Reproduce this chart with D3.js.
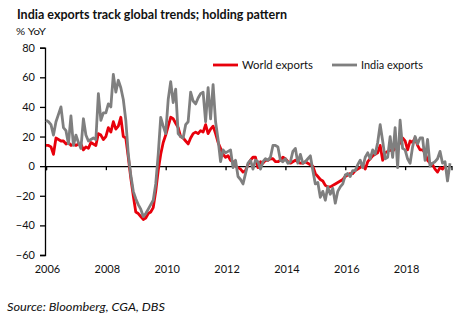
<!DOCTYPE html>
<html>
<head>
<meta charset="utf-8">
<script src="https://cdn.jsdelivr.net/npm/d3@7"></script>
<style>
  body { margin: 0; background: #fff; }
  text { font-family: Lato, "Liberation Sans", sans-serif; fill: #111; }
</style>
</head>
<body>
<div id="chart"></div>
<script>
// monthly % YoY, starting Jan 2006
const startYear = 2006;

const worldExports = [
  14, 14, 13, 8, 19, 18, 17, 17, 15, 16, 14, 15,
  14, 15, 15, 11, 13, 12, 16, 15, 14, 22, 21, 18,
  20, 26, 23, 30, 25, 27, 33, 20, 19, 6, -8, -20,
  -31, -32, -34, -36, -35, -32, -31, -28, -17, -3, 8, 16,
  21, 27, 33, 32, 29, 26, 20, 19, 17, 15, 19, 22,
  23, 22, 24, 23, 28, 22, 25, 27, 22, 16, 12, 8,
  6, 7, 4, 3, 0, -1, -2, -4, -3, 1, 4, 6,
  6, -1, 3, 2, 4, 4, 5, 5, 3, 3, 4, 6,
  5, 3, 2, 3, 4, 3, 2, 2, 3, 2, 1, 0,
  -5, -7, -9, -10, -13, -14, -14, -13, -12, -11, -10, -9,
  -7, -6, -5, -5, -3, -2, -1, 1, -2, 3, 5, 7,
  8, 9, 14, 4, 9, 10, 11, 10, 12, 13, 16, 19,
  17, 11, 17, 16, 19, 14, 11, 11, 9, 4, 2, 1,
  -2, -4, -1, -2, 0
];

const indiaExports = [
  31, 30, 28, 21, 30, 35, 40, 26, 24, 15, 34, 14,
  21, 16, 12, 32, 21, 17, 18, 19, 18, 49, 31, 36,
  36, 42, 40, 62, 50, 58, 53, 45, 31, 8, -6, -17,
  -22, -26, -29, -34, -32, -29, -26, -23, -12, 8, 33, 27,
  22, 45, 57, 43, 52, 22, 20, 19, 28, 30, 50, 44,
  42, 46, 49, 50, 30, 53, 32, 55, 30, 18, 3, 11,
  9, 10, 11, -1, 4, -7, -9, -12, -5, 2, 4, -2,
  4, 3, -2, 3, 5, 4, 6, 14, 14, 13, 4, 3,
  5, 2, 3, 10, 12, 2, 8, 2, 3, 5, 7, -3,
  -12, -11, -21, -17, -23, -14, -19, -15, -25, -17, -14, -12,
  -6, -5, -7, -3, -3, 1, 4, -1, 6, 9, 5, 11,
  8, 16, 28, 17, 5, 6, 20, 6, 26, -1, 31, 12,
  11, 5, 2, 13, 20, 15, 19, 19, 4, 18, 0, 2,
  3, 5, 10, 2, 3, -10, 2
];

const yTicks = [-60, -40, -20, 0, 20, 40, 60, 80];
const xTickYears = [2006, 2008, 2010, 2012, 2014, 2016, 2018];

const seriesNames = ["World exports", "India exports"];
const seriesColors = ["#e8000b", "#7f7f7f"];

const width = 471, height = 324;

const svg = d3.select("#chart")
  .append("svg")
  .attr("width", width)
  .attr("height", height);

let x = d3.scaleLinear()
  .domain([startYear, 2019.55])
  .range([46, 451.5]);

let y = d3.scaleLinear()
  .domain([-60, 80])
  .range([255, 47.7]);

// title and unit
svg.append("text")
  .attr("x", 17)
  .attr("y", 18.5)
  .attr("font-size", 13)
  .attr("font-weight", "bold")
  .attr("textLength", 270)
  .attr("lengthAdjust", "spacingAndGlyphs")
  .text("India exports track global trends; holding pattern");

svg.append("text")
  .attr("x", 16)
  .attr("y", 34.5)
  .attr("font-size", 10)
  .attr("textLength", 30)
  .attr("lengthAdjust", "spacingAndGlyphs")
  .text("% YoY");

// y axis
let yAxis = svg.append("g")
  .attr("transform", "translate(45,0)")
  .call(d3.axisLeft(y).tickValues(yTicks).tickSize(5).tickPadding(5));
yAxis.selectAll("text")
  .attr("font-size", 11)
  .style("font-family", "Lato, sans-serif")
  .attr("fill", "#111");
yAxis.selectAll("line, path").attr("stroke", "#000").attr("stroke-width", 1.3);

// zero line with year ticks
let zeroAxis = svg.append("g")
  .attr("transform", `translate(0,${y(0)})`)
  .call(d3.axisBottom(x).tickValues(xTickYears).tickSize(4).tickFormat(""));
zeroAxis.select(".domain").attr("stroke", "#000").attr("stroke-width", 1.3);
zeroAxis.selectAll("line").attr("stroke", "#000").attr("stroke-width", 1.3);

// year labels sit below the plot
let yearAxis = svg.append("g")
  .attr("transform", "translate(1,262)")
  .call(d3.axisBottom(x).tickValues(xTickYears).tickSize(0).tickFormat(d3.format("d")));
yearAxis.select(".domain").remove();
yearAxis.selectAll("text")
  .attr("font-size", 11)
  .style("font-family", "Lato, sans-serif")
  .attr("fill", "#111");

// lines
let line = d3.line()
  .x((d, i) => x(startYear + i / 12))
  .y(d => y(d));

[worldExports, indiaExports].forEach((s, i) => {
  svg.append("path")
    .datum(s)
    .attr("d", line)
    .attr("fill", "none")
    .attr("stroke", seriesColors[i])
    .attr("stroke-width", 2.8)
    .attr("stroke-linejoin", "round");
});

// legend
let legendX = [213, 332];
let legendText = [71, 62];
seriesNames.forEach((name, i) => {
  svg.append("line")
    .attr("x1", legendX[i])
    .attr("x2", legendX[i] + 25)
    .attr("y1", 65)
    .attr("y2", 65)
    .attr("stroke", seriesColors[i])
    .attr("stroke-width", 2.8);
  svg.append("text")
    .attr("x", legendX[i] + 29)
    .attr("y", 69)
    .attr("font-size", 11)
    .attr("textLength", legendText[i])
    .attr("lengthAdjust", "spacingAndGlyphs")
    .text(name);
});

// source note
svg.append("text")
  .attr("x", 7)
  .attr("y", 311)
  .attr("font-size", 11)
  .attr("font-style", "italic")
  .attr("textLength", 158)
  .attr("lengthAdjust", "spacingAndGlyphs")
  .text("Source: Bloomberg, CGA, DBS");
</script>
</body>
</html>
